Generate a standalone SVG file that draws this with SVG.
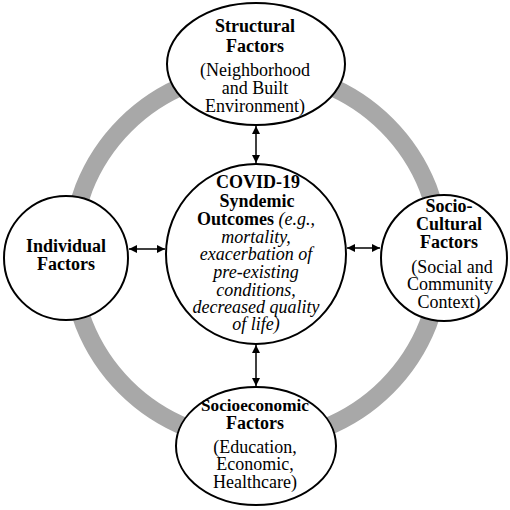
<svg xmlns="http://www.w3.org/2000/svg" width="510" height="510" viewBox="0 0 510 510">
<style>
.node{fill:#fff;stroke:#000;stroke-width:2}
.t{font-family:"Liberation Serif","Times New Roman",serif;font-size:18px;text-anchor:middle;fill:#000}
.b{font-weight:bold}
.i{font-style:italic}
.arr{stroke:#000;stroke-width:1.5;fill:none;marker-start:url(#ah);marker-end:url(#ah)}
</style>
<defs>
<marker id="ah" viewBox="0 0 10 10" refX="10" refY="5" markerWidth="9" markerHeight="8" markerUnits="userSpaceOnUse" orient="auto-start-reverse">
<path d="M0,0 L10,5 L0,10 Z" fill="#000"/>
</marker>
</defs>
<circle cx="256" cy="256" r="185" fill="none" stroke="#a8a8a8" stroke-width="18"/>
<g id="connectors">
<line class="arr" x1="256" y1="126" x2="256" y2="163"/>
<line class="arr" x1="256" y1="345" x2="256" y2="386"/>
<line class="arr" x1="129" y1="249" x2="165" y2="249"/>
<line class="arr" x1="347" y1="248" x2="380" y2="248"/>
</g>
<g id="structural">
<ellipse class="node" cx="256" cy="64" rx="89" ry="61"/>
<text class="t b" x="255" y="32">Structural</text>
<text class="t b" x="255" y="52">Factors</text>
<text class="t" x="255" y="76">(Neighborhood</text>
<text class="t" x="255" y="94">and Built</text>
<text class="t" x="255" y="112">Environment)</text>
</g>
<g id="individual">
<circle class="node" cx="66" cy="258" r="62"/>
<text class="t b" x="66" y="252">Individual</text>
<text class="t b" x="66" y="270">Factors</text>
</g>
<g id="sociocultural">
<circle class="node" cx="444" cy="258" r="63"/>
<text class="t b" x="449" y="212">Socio-</text>
<text class="t b" x="449" y="230">Cultural</text>
<text class="t b" x="449" y="248">Factors</text>
<text class="t" x="452" y="273">(Social and</text>
<text class="t" x="450" y="290">Community</text>
<text class="t" x="449" y="308">Context)</text>
</g>
<g id="covid">
<circle class="node" cx="256" cy="254" r="90"/>
<text class="t b" x="258" y="188">COVID-19</text>
<text class="t b" x="257" y="207">Syndemic</text>
<text class="t" x="256" y="225"><tspan class="b">Outcomes</tspan> <tspan class="i">(e.g.,</tspan></text>
<text class="t i" x="256" y="243">mortality,</text>
<text class="t i" x="256" y="260">exacerbation of</text>
<text class="t i" x="256" y="278">pre-existing</text>
<text class="t i" x="256" y="296">conditions,</text>
<text class="t i" x="256" y="313">decreased quality</text>
<text class="t i" x="256" y="330">of life)</text>
</g>
<g id="socioeconomic">
<ellipse class="node" cx="256" cy="446" rx="80" ry="59"/>
<text class="t b" x="255" y="411" style="font-size:17.2px">Socioeconomic</text>
<text class="t b" x="255" y="429">Factors</text>
<text class="t" x="255" y="453">(Education,</text>
<text class="t" x="255" y="470">Economic,</text>
<text class="t" x="255" y="488">Healthcare)</text>
</g>
</svg>
